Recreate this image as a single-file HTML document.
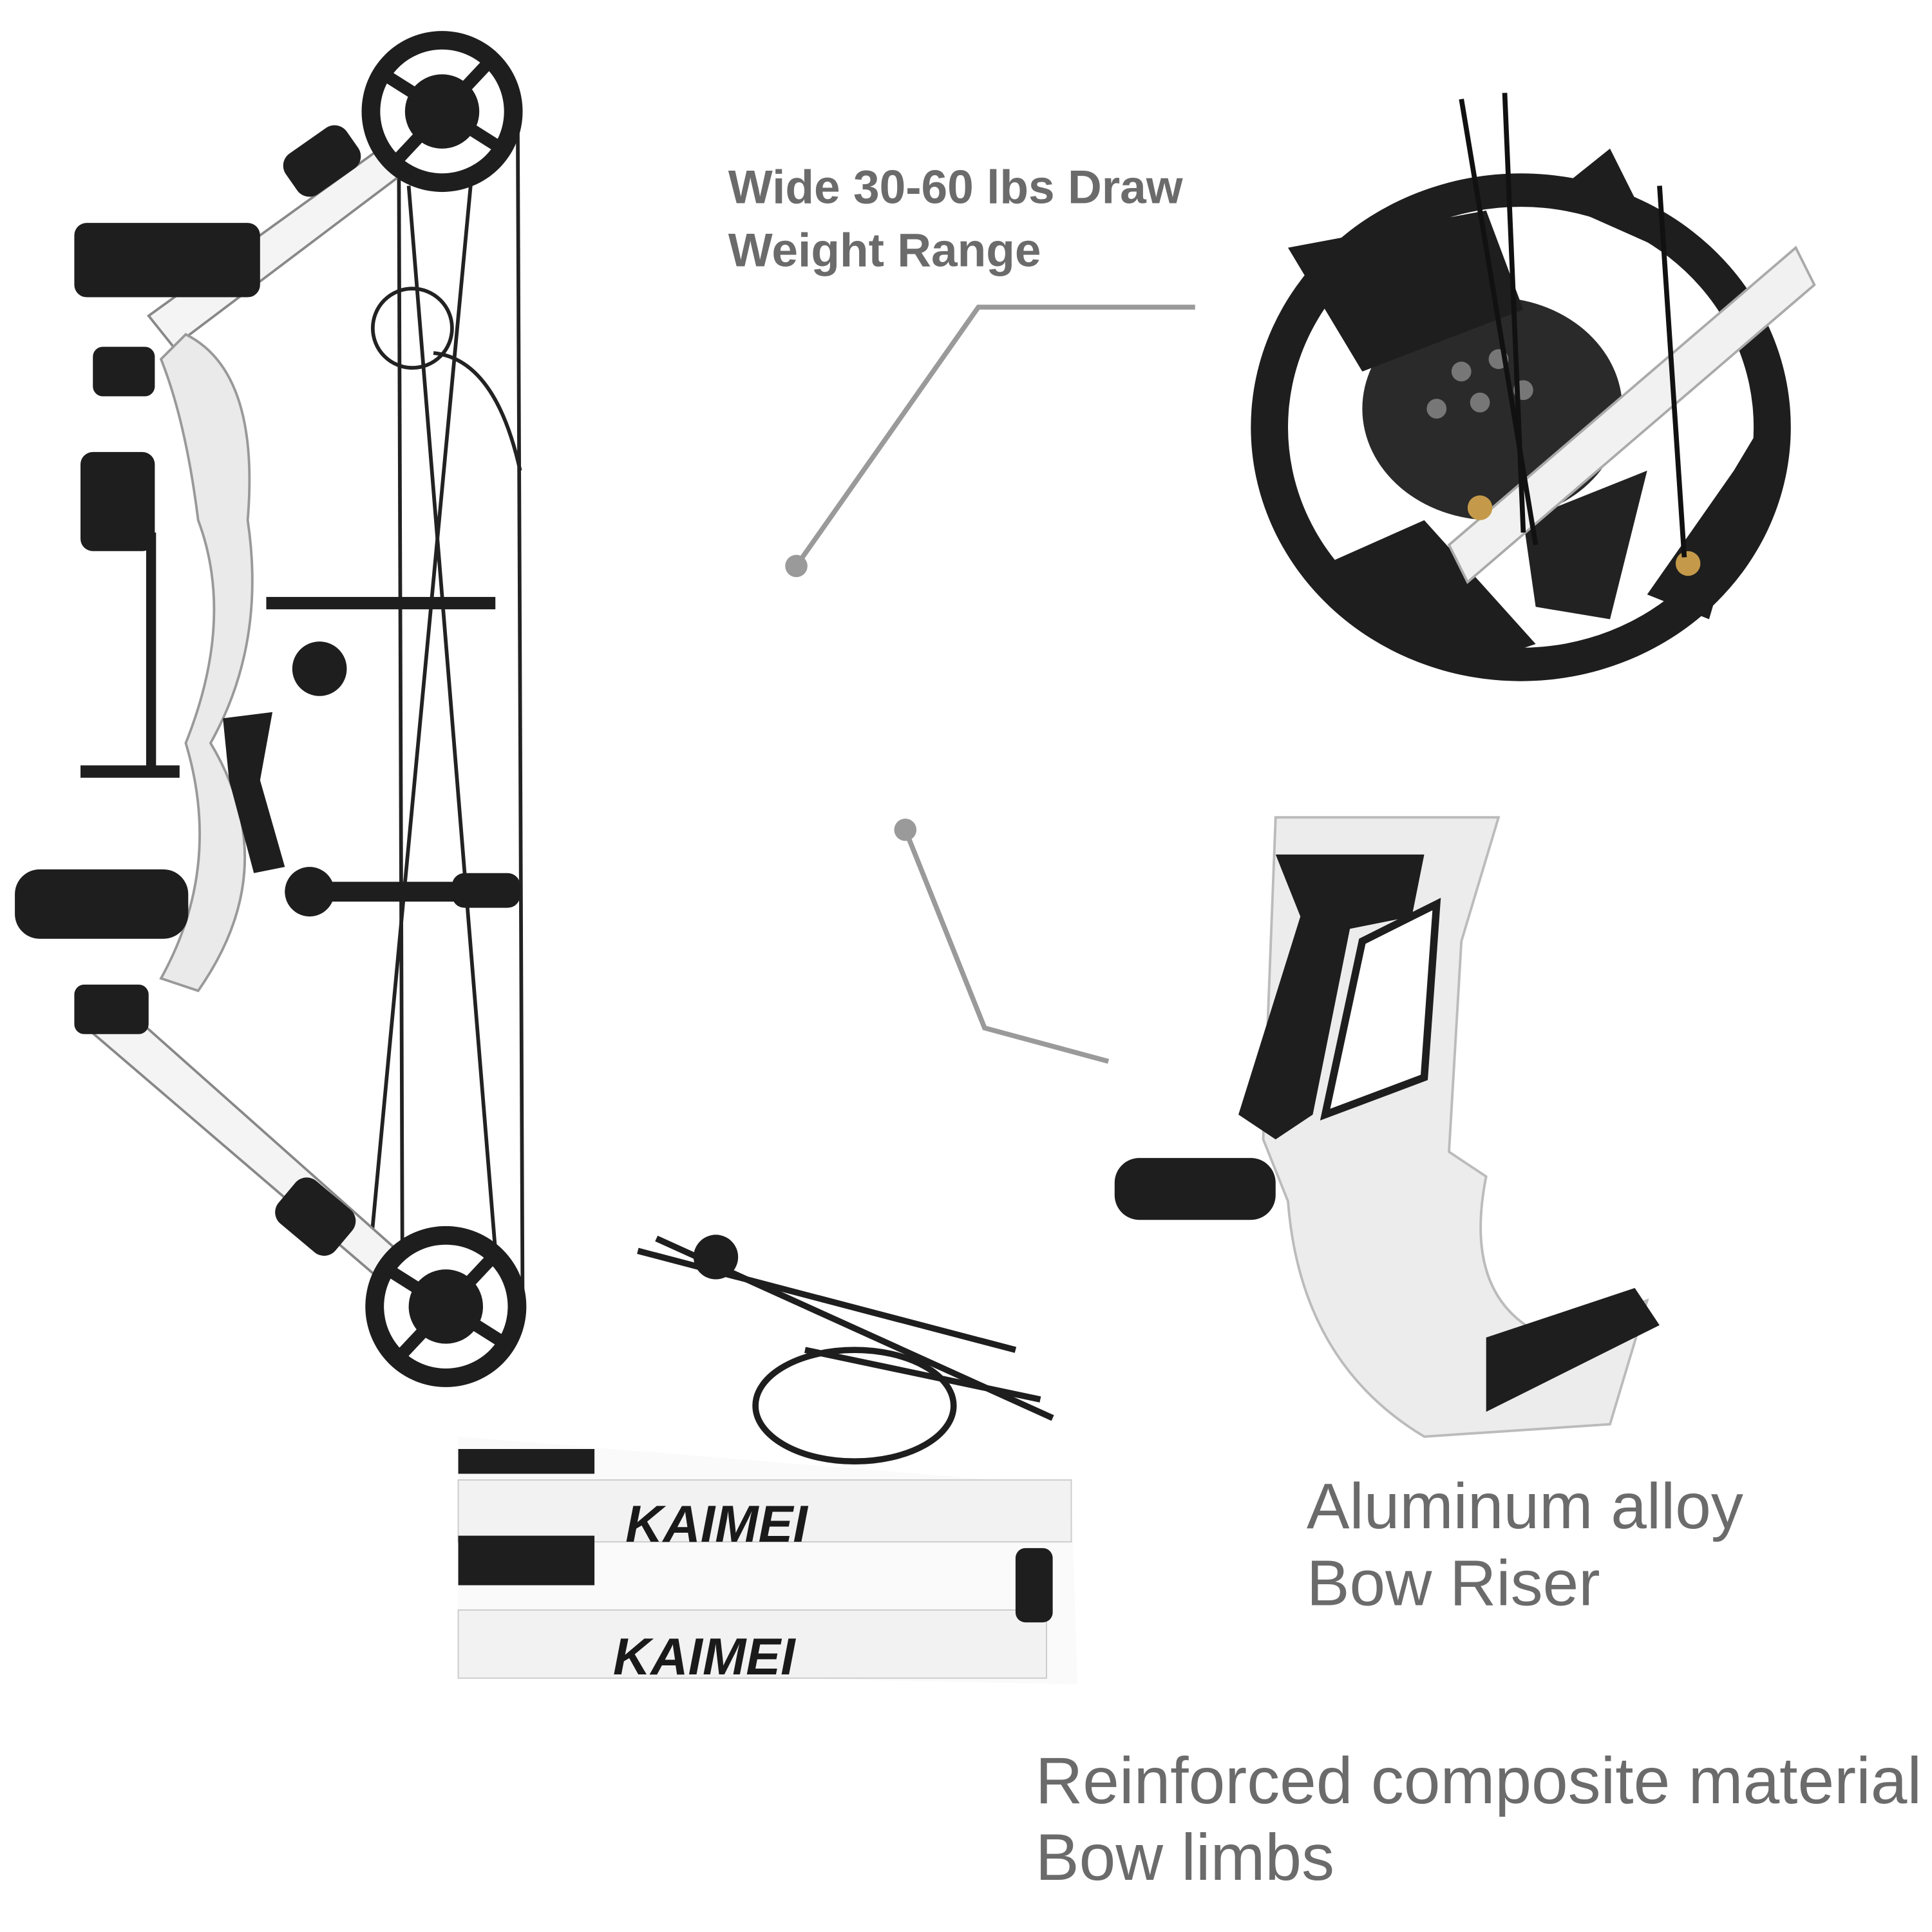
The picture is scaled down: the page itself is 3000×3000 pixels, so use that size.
<!DOCTYPE html>
<html><head><meta charset="utf-8"><style>
html,body{margin:0;padding:0;background:#fff;}
svg{display:block;}
text{font-family:"Liberation Sans",sans-serif;fill:#6b6b6b;}
</style></head><body>
<svg width="3000" height="3000" viewBox="0 0 1560 1560" xmlns="http://www.w3.org/2000/svg">
<rect width="1560" height="1560" fill="#fff"/>
<text x="588" y="164" font-size="38" font-weight="bold" fill="#707070">Wide 30-60 lbs Draw</text>
<text x="588" y="215" font-size="38" font-weight="bold" fill="#707070">Weight Range</text>
<text x="1055" y="1234" font-size="52">Aluminum alloy</text>
<text x="1055" y="1296" font-size="52">Bow Riser</text>
<text x="836" y="1456" font-size="53">Reinforced composite material</text>
<text x="836" y="1518" font-size="53">Bow limbs</text>
<polyline points="643,457 790,248 965,248" fill="none" stroke="#9a9a9a" stroke-width="4"/>
<circle cx="643" cy="457" r="9" fill="#9a9a9a"/>
<polyline points="731,670 795,830 895,857" fill="none" stroke="#9a9a9a" stroke-width="4"/>
<circle cx="731" cy="670" r="9" fill="#9a9a9a"/>

<g stroke="#222" stroke-width="3" fill="none">
<line x1="322" y1="110" x2="325" y2="1050"/>
<line x1="418" y1="90" x2="422" y2="1060"/>
<line x1="380" y1="150" x2="300" y2="1000"/>
<line x1="330" y1="150" x2="400" y2="1010"/>
<circle cx="333" cy="265" r="32"/>
<path d="M350 285 Q400 290 420 380"/>
</g>
<g stroke="#888" stroke-width="2" fill="#f4f4f4">
<polygon points="120,255 390,60 405,80 140,280"/>
<polygon points="85,800 400,1080 385,1100 70,830"/>
</g>
<path d="M150 270 Q210 300 200 420 Q215 520 170 600 Q230 700 160 800 L130 790 Q180 700 150 600 Q190 500 160 420 Q150 340 130 290 Z" fill="#eaeaea" stroke="#999" stroke-width="2"/>
<g>
<circle cx="357" cy="90" r="65" fill="#1e1e1e"/>
<circle cx="357" cy="90" r="50" fill="#fff"/>
<circle cx="357" cy="90" r="30" fill="#1e1e1e"/>
<g stroke="#1e1e1e" stroke-width="10"><line x1="310" y1="60" x2="405" y2="120"/><line x1="320" y1="130" x2="395" y2="50"/></g>
<circle cx="360" cy="1055" r="65" fill="#1e1e1e"/>
<circle cx="360" cy="1055" r="50" fill="#fff"/>
<circle cx="360" cy="1055" r="30" fill="#1e1e1e"/>
<g stroke="#1e1e1e" stroke-width="10"><line x1="313" y1="1025" x2="408" y2="1085"/><line x1="323" y1="1095" x2="398" y2="1015"/></g>
</g>
<g fill="#1e1e1e">
<rect x="60" y="180" width="150" height="60" rx="10"/>
<rect x="75" y="280" width="50" height="40" rx="8"/>
<rect x="65" y="365" width="60" height="80" rx="10"/>
<rect x="118" y="430" width="8" height="190"/>
<rect x="65" y="618" width="80" height="10"/>
<rect x="215" y="482" width="185" height="10"/>
<circle cx="258" cy="540" r="22"/>
<path d="M180 580 L220 575 L210 630 L230 700 L205 705 L185 630 Z"/>
<rect x="12" y="702" width="140" height="56" rx="20"/>
<rect x="230" y="712" width="190" height="16" rx="8"/>
<circle cx="250" cy="720" r="20"/>
<rect x="365" y="705" width="55" height="28" rx="10"/>
<rect x="60" y="795" width="60" height="40" rx="8"/>
<rect x="225" y="960" width="60" height="45" rx="12" transform="rotate(40 255 982)"/>
<rect x="230" y="110" width="60" height="40" rx="12" transform="rotate(-35 260 130)"/>
</g>

<g>
<ellipse cx="1228" cy="345" rx="218" ry="205" fill="#1e1e1e"/>
<ellipse cx="1228" cy="345" rx="188" ry="178" fill="#fff"/>
<ellipse cx="1205" cy="330" rx="105" ry="90" fill="#2a2a2a"/>
<path d="M1040 200 L1200 170 L1230 250 L1100 300 Z" fill="#1e1e1e"/>
<path d="M1060 460 L1180 540 L1240 520 L1150 420 Z" fill="#1e1e1e"/>
<path d="M1330 480 L1400 380 L1430 330 L1380 500 Z" fill="#1e1e1e"/>
<path d="M1250 160 L1300 120 L1340 200 Z" fill="#1e1e1e"/>
<path d="M1230 420 L1330 380 L1300 500 L1240 490 Z" fill="#222"/>
<polygon points="1170,440 1450,200 1465,230 1185,470" fill="#f1f1f1" stroke="#aaa" stroke-width="2"/>
<g fill="#777"><circle cx="1180" cy="300" r="8"/><circle cx="1210" cy="290" r="8"/><circle cx="1160" cy="330" r="8"/><circle cx="1195" cy="325" r="8"/><circle cx="1230" cy="315" r="8"/></g>
<circle cx="1363" cy="455" r="10" fill="#c49a4a"/>
<circle cx="1195" cy="410" r="10" fill="#c49a4a"/>
<g stroke="#111" stroke-width="4"><line x1="1180" y1="80" x2="1240" y2="440"/><line x1="1215" y1="75" x2="1230" y2="430"/><line x1="1340" y1="150" x2="1360" y2="450"/></g>
</g>

<g>
<path d="M1030 660 L1210 660 L1180 760 L1170 930 L1200 950 Q1180 1050 1250 1080 L1330 1050 L1300 1150 L1150 1160 Q1050 1100 1040 970 L1020 920 Z" fill="#ececec" stroke="#bbb" stroke-width="2"/>
<path d="M1030 690 L1150 690 L1140 740 L1090 750 L1060 900 L1030 920 L1000 900 L1050 740 Z" fill="#1e1e1e"/>
<path d="M1100 760 L1160 730 L1150 870 L1070 900 Z" fill="#fff" stroke="#1e1e1e" stroke-width="6"/>
<rect x="900" y="935" width="130" height="50" rx="20" fill="#1e1e1e"/>
<path d="M1200 1080 L1320 1040 L1340 1070 L1200 1140 Z" fill="#1e1e1e"/>
</g>

<g>
<path d="M370 1160 L865 1200 L870 1360 L370 1350 Z" fill="#fafafa"/>
<rect x="370" y="1170" width="110" height="20" fill="#1e1e1e"/>
<rect x="370" y="1195" width="495" height="50" fill="#f2f2f2" stroke="#ccc"/>
<rect x="370" y="1240" width="110" height="40" fill="#1e1e1e"/>
<rect x="370" y="1300" width="475" height="55" fill="#f2f2f2" stroke="#ccc"/>
<text x="505" y="1245" font-size="42" font-weight="bold" font-style="italic" fill="#1a1a1a" style="fill:#1a1a1a">KAIMEI</text>
<text x="495" y="1352" font-size="42" font-weight="bold" font-style="italic" fill="#1a1a1a" style="fill:#1a1a1a">KAIMEI</text>
<rect x="820" y="1250" width="30" height="60" rx="8" fill="#1e1e1e"/>
</g>

<g stroke="#1e1e1e" stroke-width="5" fill="none">
<line x1="515" y1="1010" x2="820" y2="1090"/>
<line x1="530" y1="1000" x2="850" y2="1145"/>
<line x1="650" y1="1090" x2="840" y2="1130"/>
<ellipse cx="690" cy="1135" rx="80" ry="45"/>
</g>
<circle cx="578" cy="1015" r="18" fill="#1e1e1e"/>
</svg>
</body></html>
